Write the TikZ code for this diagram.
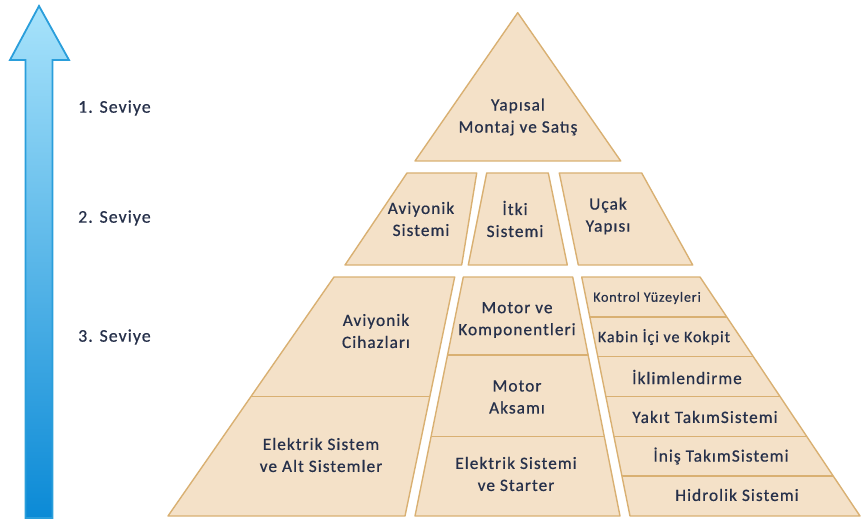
\documentclass[tikz,border=0pt]{standalone}
\usepackage{fontspec}
\setmainfont{Carlito}
\newfontfamily\spacedfont[LetterSpace=6,FakeBold=0.6]{Carlito}
\usetikzlibrary{calc}
\definecolor{blockfill}{HTML}{F4E1C8}
\definecolor{blockline}{HTML}{D9B072}
\definecolor{labeltext}{HTML}{26304A}
\definecolor{arrowline}{HTML}{2A9EDB}
\definecolor{arrowtop}{HTML}{A8E3FB}
\definecolor{arrowmid}{HTML}{1DB2E8}
\definecolor{arrowbot}{HTML}{0B8AD6}
\begin{document}
\begin{tikzpicture}[x=1pt,y=-1pt,
  block/.style={fill=blockfill,draw=blockline,line width=1.4pt,line join=round},
  divider/.style={draw=blockline,line width=1.4pt},
  lbl/.style={text=labeltext,font=\spacedfont\fontsize{17.3}{22}\selectfont,align=center,inner sep=0pt},
  small/.style={lbl,font=\spacedfont\fontsize{14}{18}\selectfont},
  narrow/.style={lbl,font=\spacedfont\fontsize{16}{20}\selectfont},
  level/.style={text=labeltext,font=\spacedfont\fontsize{17.8}{20}\selectfont,anchor=west,inner sep=0pt}]
\useasboundingbox (0,0) rectangle (861,521);

% level arrow
\path[draw=arrowline,line width=1.8pt,line join=miter,
      top color=arrowtop,middle color=arrowmid,bottom color=arrowbot]
  (39,6) -- (69,60) -- (52.5,60) -- (52.5,518) -- (25.5,518) -- (25.5,60) -- (10,60) -- cycle;

\node[level] (s1) at (78,108) {1. Seviye};
\node[level] (s2) at (78,218) {2. Seviye};
\node[level] (s3) at (78,337) {3. Seviye};

% level 1
\path[block] (517.7,12.7) -- (620.7,161) -- (415,161) -- cycle;
\node[lbl] (yap) at (518,117) {Yapısal\\Montaj ve Satış};

% level 2
\path[block] (407,173) -- (476.7,173) -- (461.7,265) -- (345,265) -- cycle;
\path[block] (486.7,173) -- (548.3,173) -- (567.3,265) -- (468.3,265) -- cycle;
\path[block] (559.3,173) -- (641.7,173) -- (692.7,265) -- (578.3,265) -- cycle;
\node[lbl] (avs) at (421,219) {Aviyonik\\Sistemi};
\node[lbl] (itk) at (515,219) {İtki\\Sistemi};
\node[lbl] (ucy) at (608,216) {Uçak\\Yapısı};

% level 3, left column
\coordinate (la) at (334,277);  \coordinate (lb) at (454.7,277);
\coordinate (lc) at (405,516);  \coordinate (ld) at (168,516);
\path[block] (la) -- (lb) -- (lc) -- (ld) -- cycle;
\draw[divider] ($(la)!0.5!(ld)$) -- ($(lb)!0.5!(lc)$);
\node[lbl] (avc) at (376,331) {Aviyonik\\Cihazları};
\node[lbl] (els) at (321,455) {Elektrik Sistem\\ve Alt Sistemler};

% level 3, middle column
\coordinate (ma) at (463.3,277); \coordinate (mb) at (572.7,277);
\coordinate (mc) at (620,516);   \coordinate (md) at (415,516);
\path[block] (ma) -- (mb) -- (mc) -- (md) -- cycle;
\foreach \f in {0.326,0.668}
  \draw[divider] ($(ma)!\f!(md)$) -- ($(mb)!\f!(mc)$);
\node[lbl] (mvk) at (517,320) {Motor ve\\Komponentleri};
\node[lbl] (mak) at (517,397) {Motor\\Aksamı};
\node[lbl] (est) at (516,474) {Elektrik Sistemi\\ve Starter};

% level 3, right column
\coordinate (ra) at (581.7,277); \coordinate (rb) at (700,277);
\coordinate (rc) at (860,516);   \coordinate (rd) at (630,516);
\path[block] (ra) -- (rb) -- (rc) -- (rd) -- cycle;
\foreach \k in {1,...,5}
  \draw[divider] ($(ra)!\k/6!(rd)$) -- ($(rb)!\k/6!(rc)$);
\node[small] (kon) at (647,298) {Kontrol Yüzeyleri};
\node[narrow] (kab) at (664,337) {Kabin İçi ve Kokpit};
\node[lbl] (ikl) at (687,377) {İklimlendirme};
\node[lbl] (yak) at (705,417) {Yakıt TakımSistemi};
\node[lbl] (ini) at (721,456) {İniş TakımSistemi};
\node[lbl] (hid) at (737,495) {Hidrolik Sistemi};
\end{tikzpicture}
\end{document}
